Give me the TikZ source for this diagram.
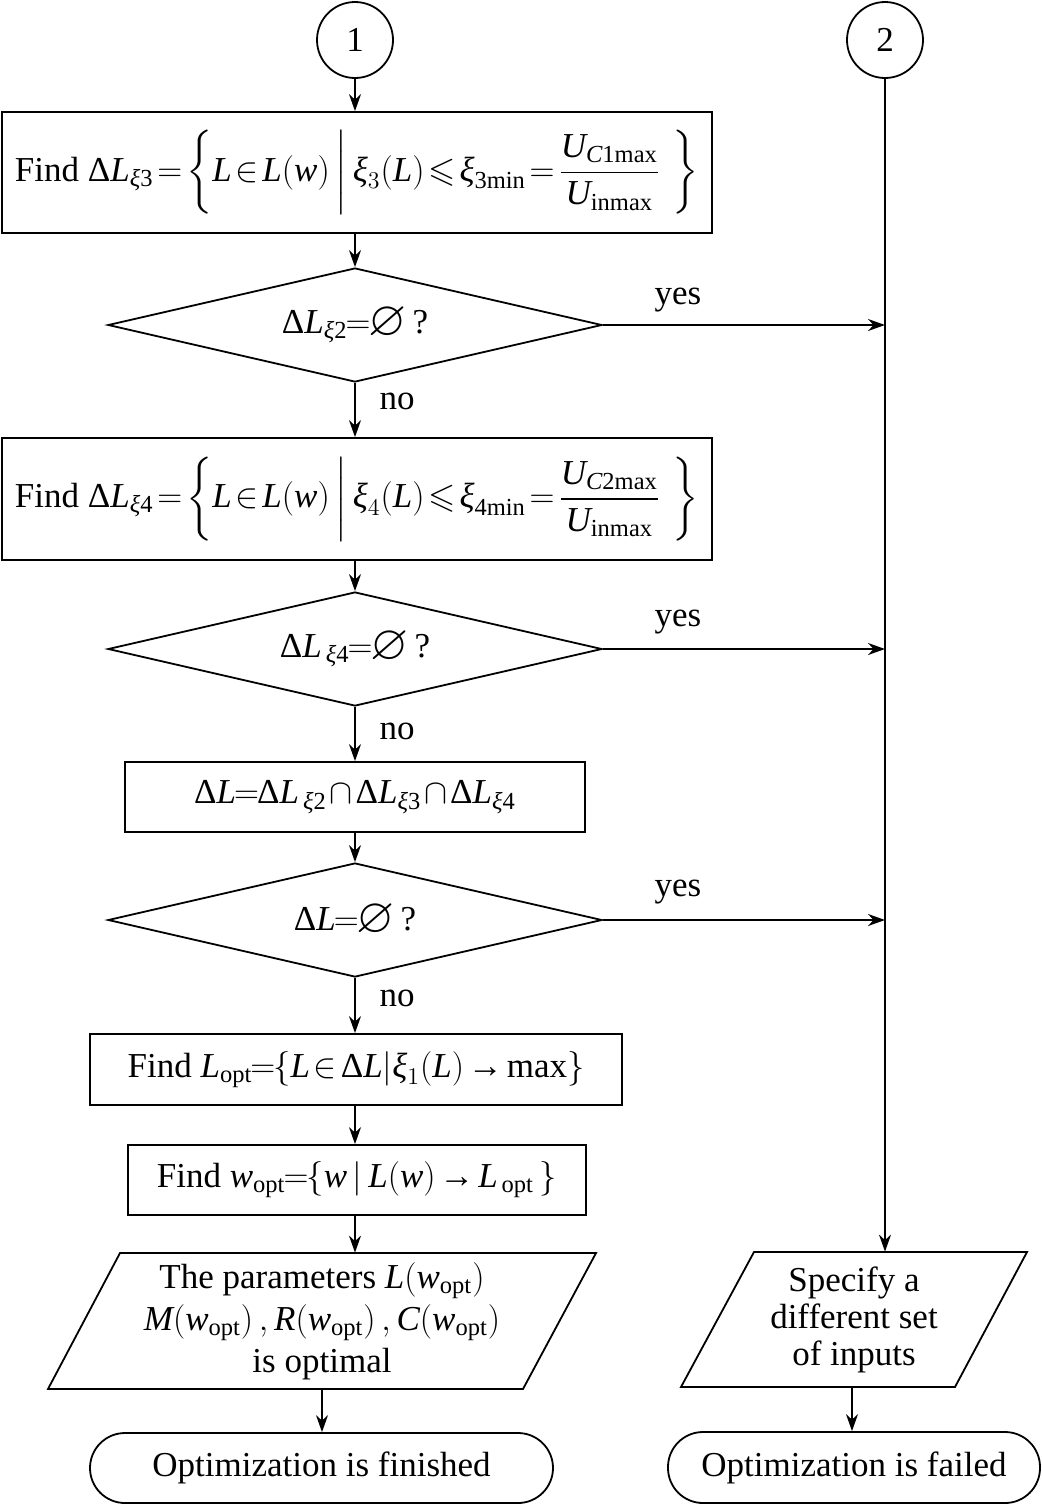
\documentclass[tikz,border=0pt]{standalone}
\usepackage{amsmath,amssymb}
\usepackage{fontspec}
\setmainfont{Liberation Serif}
\usetikzlibrary{shapes.geometric,arrows.meta}
\newcommand\iL{\textit{L}}
\newcommand\iw{\textit{w}}
\newcommand\iU{\textit{U}}
\newcommand\D{\textup{Δ}}
\newcommand\xii{\textit{ξ}}
\newcommand\opt{\text{opt}}
\newcommand\bigempty{\mathord{\raisebox{-0.1ex}{\scalebox{1.4}{$\varnothing$}}}}
\newcommand\tto{\mathrel{\text{→}}}
\AtBeginDocument{\thickmuskip=2mu plus 1mu\relax\medmuskip=1.5mu\relax}
\begin{document}
\begin{tikzpicture}[x=0.5pt,y=-0.5pt,
  every node/.style={font=\fontsize{17.5}{21}\selectfont},
  line/.style={line width=0.9pt},
  arr/.style={line width=0.9pt,-{Stealth[length=8.5pt,width=6pt]}},
  boxn/.style={draw,line width=0.9pt,rectangle,inner sep=0pt},
  dec/.style={draw,line width=0.9pt,diamond,aspect=4.33,inner sep=0pt,minimum width=247pt,minimum height=57pt},
  conn/.style={draw,line width=0.9pt,circle,inner sep=0pt,minimum size=38pt},
  term/.style={draw,line width=0.9pt,rectangle,rounded corners=17.5pt,inner sep=0pt},
  lbl/.style={inner sep=0pt}]
\useasboundingbox (0,0) rectangle (1042,1506);
% connectors circles
\node[conn] (c1) at (355,40) {1};
\node[conn] (c2) at (885,40) {2};
% left column
\node[boxn,minimum width=355pt,minimum height=60.5pt] (b1) at (357,172.5)
 {Find $\D\iL_{\xii\text{3}}=\left\{\iL\in\iL(\iw)\,\middle|\,\xii_3(\iL)\leqslant\xii_{\text{3min}}=\dfrac{\iU_{\textit{C}\text{1max}}}{\iU_{\text{inmax}}}\ \;\right\}$};
\node[dec] (d1) at (355,325) {$\D\iL_{\xii\text{2}}\!=\!\bigempty$\,?};
\node[boxn,minimum width=355pt,minimum height=61pt] (b2) at (357,499)
 {Find $\D\iL_{\xii\text{4}}=\left\{\iL\in\iL(\iw)\,\middle|\,\xii_4(\iL)\leqslant\xii_{\text{4min}}=\dfrac{\iU_{\textit{C}\text{2max}}}{\iU_{\text{inmax}}}\ \;\right\}$};
\node[dec] (d2) at (355,649) {$\D\iL_{\,\xii\text{4}}\!=\!\bigempty$\,?};
\node[boxn,minimum width=230pt,minimum height=35pt] (b3) at (355,797)
 {$\D\iL\!=\!\D\iL_{\,\xii\text{2}}\cap\D\iL_{\xii\text{3}}\cap\D\iL_{\xii\text{4}}$};
\node[dec] (d3) at (355,920) {$\D\iL\!=\!\bigempty$\,?};
\node[boxn,minimum width=266pt,minimum height=35.5pt] (b4) at (356,1069.5)
 {Find $\iL_{\opt}\!=\!\{\iL\in\D\iL|\xii_1(\iL)\tto\text{max}\}$};
\node[boxn,minimum width=229pt,minimum height=35pt] (b5) at (357,1180)
 {Find $\iw_{\opt}\!=\!\{\iw\,|\,\iL(\iw)\tto\iL_{\,\opt}\,\}$};
% parallelogram 1
\draw[line] (120,1253) -- (596,1253) -- (523,1389) -- (48,1389) -- cycle;
\node[align=center,inner sep=0pt,minimum height=68pt] (p1) at (322,1321)
 {The parameters $\iL(\iw_{\opt})$\\ $\textit{M}(\iw_{\opt})\,,\textit{R}(\iw_{\opt})\,,\textit{C}(\iw_{\opt})$\\ is optimal};
\node[term,minimum width=231.5pt,minimum height=35pt] (t1) at (321.5,1468) {Optimization is finished};
% right column
\draw[line] (754,1252) -- (1027,1252) -- (955,1387) -- (681,1387) -- cycle;
\node[align=center,inner sep=0pt,minimum height=67.5pt,font=\fontsize{17.5}{18.5}\selectfont] (p2) at (854,1319.5)
 {Specify a\\ different set\\ of inputs};
\node[term,minimum width=186pt,minimum height=35.5pt] (t2) at (854,1467.5) {Optimization is failed};
% main flow
\draw[arr] (c1.south) -- (c1.south |- b1.north);
\draw[arr] (b1.south -| d1.north) -- (d1.north);
\draw[arr] (d1.south) -- (d1.south |- b2.north);
\draw[arr] (b2.south -| d2.north) -- (d2.north);
\draw[arr] (d2.south) -- (d2.south |- b3.north);
\draw[arr] (b3.south) -- (d3.north);
\draw[arr] (d3.south) -- (d3.south |- b4.north);
\draw[arr] (b4.south -| d3.south) -- (d3.south |- b5.north);
\draw[arr] (b5.south -| d3.south) -- (d3.south |- p1.north);
\draw[arr] (p1.south) -- (p1.south |- t1.north);
% yes branches
\draw[arr] (d1.east) -- (d1.east -| c2.south);
\draw[arr] (d2.east) -- (d2.east -| c2.south);
\draw[arr] (d3.east) -- (d3.east -| c2.south);
\draw[arr] (c2.south) -- (c2.south |- p2.north);
\draw[arr] (p2.south -| 852,0) -- (852,0 |- t2.north);
% labels
\node[lbl] (y1) at (678,300) {yes};
\node[lbl] (y2) at (678,622) {yes};
\node[lbl] (y3) at (678,892) {yes};
\node[lbl] (n1) at (397,401) {no};
\node[lbl] (n2) at (397,731) {no};
\node[lbl] (n3) at (397,998) {no};
\end{tikzpicture}
\end{document}
